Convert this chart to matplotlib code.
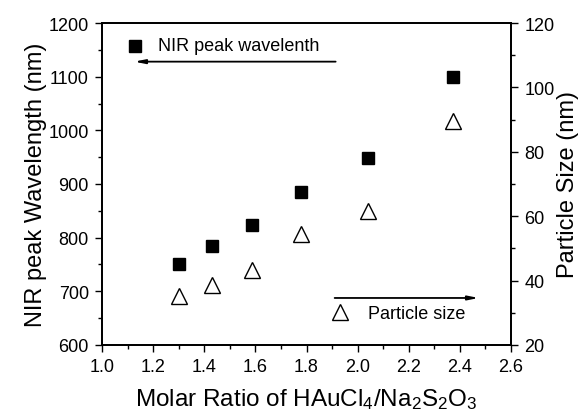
import matplotlib
matplotlib.use('Agg')
import matplotlib.pyplot as plt
from matplotlib.ticker import MultipleLocator

# data
ratio = [1.30, 1.43, 1.585, 1.78, 2.04, 2.375]
nir_peak = [750, 784, 824, 885, 949, 1100]
particle_size = [35.2, 38.6, 43.3, 54.6, 61.6, 89.7]

plt.rcParams['font.family'] = ['Liberation Sans', 'DejaVu Sans']
plt.rcParams['mathtext.default'] = 'regular'

fig = plt.figure(figsize=(5.84, 4.14), dpi=100)
ax = fig.add_axes([0.1747, 0.1643, 0.7003, 0.7777])
ax2 = ax.twinx()

ax.plot(ratio, nir_peak, 's', color='black', markersize=8.5, clip_on=False)
ax2.plot(ratio, particle_size, '^', markerfacecolor='white', markeredgecolor='black',
         markeredgewidth=1.0, markersize=11, clip_on=False)

ax.set_xlim(1.0, 2.6)
ax.set_ylim(600, 1200)
ax2.set_ylim(20, 120)

ax.xaxis.set_major_locator(MultipleLocator(0.2))
ax.xaxis.set_minor_locator(MultipleLocator(0.1))
ax.yaxis.set_major_locator(MultipleLocator(100))
ax.yaxis.set_minor_locator(MultipleLocator(50))
ax2.yaxis.set_major_locator(MultipleLocator(20))
ax2.yaxis.set_minor_locator(MultipleLocator(10))

for a in (ax, ax2):
    a.tick_params(which='major', direction='out', length=5, width=1.0, labelsize=13, pad=4.5)
    a.tick_params(which='minor', direction='out', length=3, width=1.0)
    for s in a.spines.values():
        s.set_linewidth(1.3)
ax.tick_params(top=False, which='both')
ax.xaxis.set_major_formatter(matplotlib.ticker.FormatStrFormatter('%.1f'))

ax.set_xlabel('Molar Ratio of HAuCl$_4$/Na$_2$S$_2$O$_3$', fontsize=17.5, labelpad=8)
ax.set_ylabel('NIR peak Wavelength (nm)', fontsize=17, labelpad=1)
ax2.set_ylabel('Particle Size (nm)', fontsize=17, labelpad=2)

# hand-drawn style legend
ax.plot([0.081], [0.929], 's', color='black', markersize=8.5, transform=ax.transAxes)
ax.text(0.137, 0.929, 'NIR peak wavelenth', fontsize=13, va='center', ha='left',
        transform=ax.transAxes)
ax.annotate('', xy=(0.072, 0.880), xytext=(0.578, 0.880), xycoords='axes fraction',
            arrowprops=dict(arrowstyle='-|>,head_length=0.6,head_width=0.12',
                            color='black', lw=1.3))

ax.plot([0.582], [0.102], '^', markerfacecolor='white', markeredgecolor='black',
        markersize=11, transform=ax.transAxes)
ax.text(0.650, 0.099, 'Particle size', fontsize=13, va='center', ha='left',
        transform=ax.transAxes)
ax.annotate('', xy=(0.928, 0.146), xytext=(0.562, 0.146), xycoords='axes fraction',
            arrowprops=dict(arrowstyle='-|>,head_length=0.6,head_width=0.12',
                            color='black', lw=1.3))

fig.savefig('out.png', dpi=100)
